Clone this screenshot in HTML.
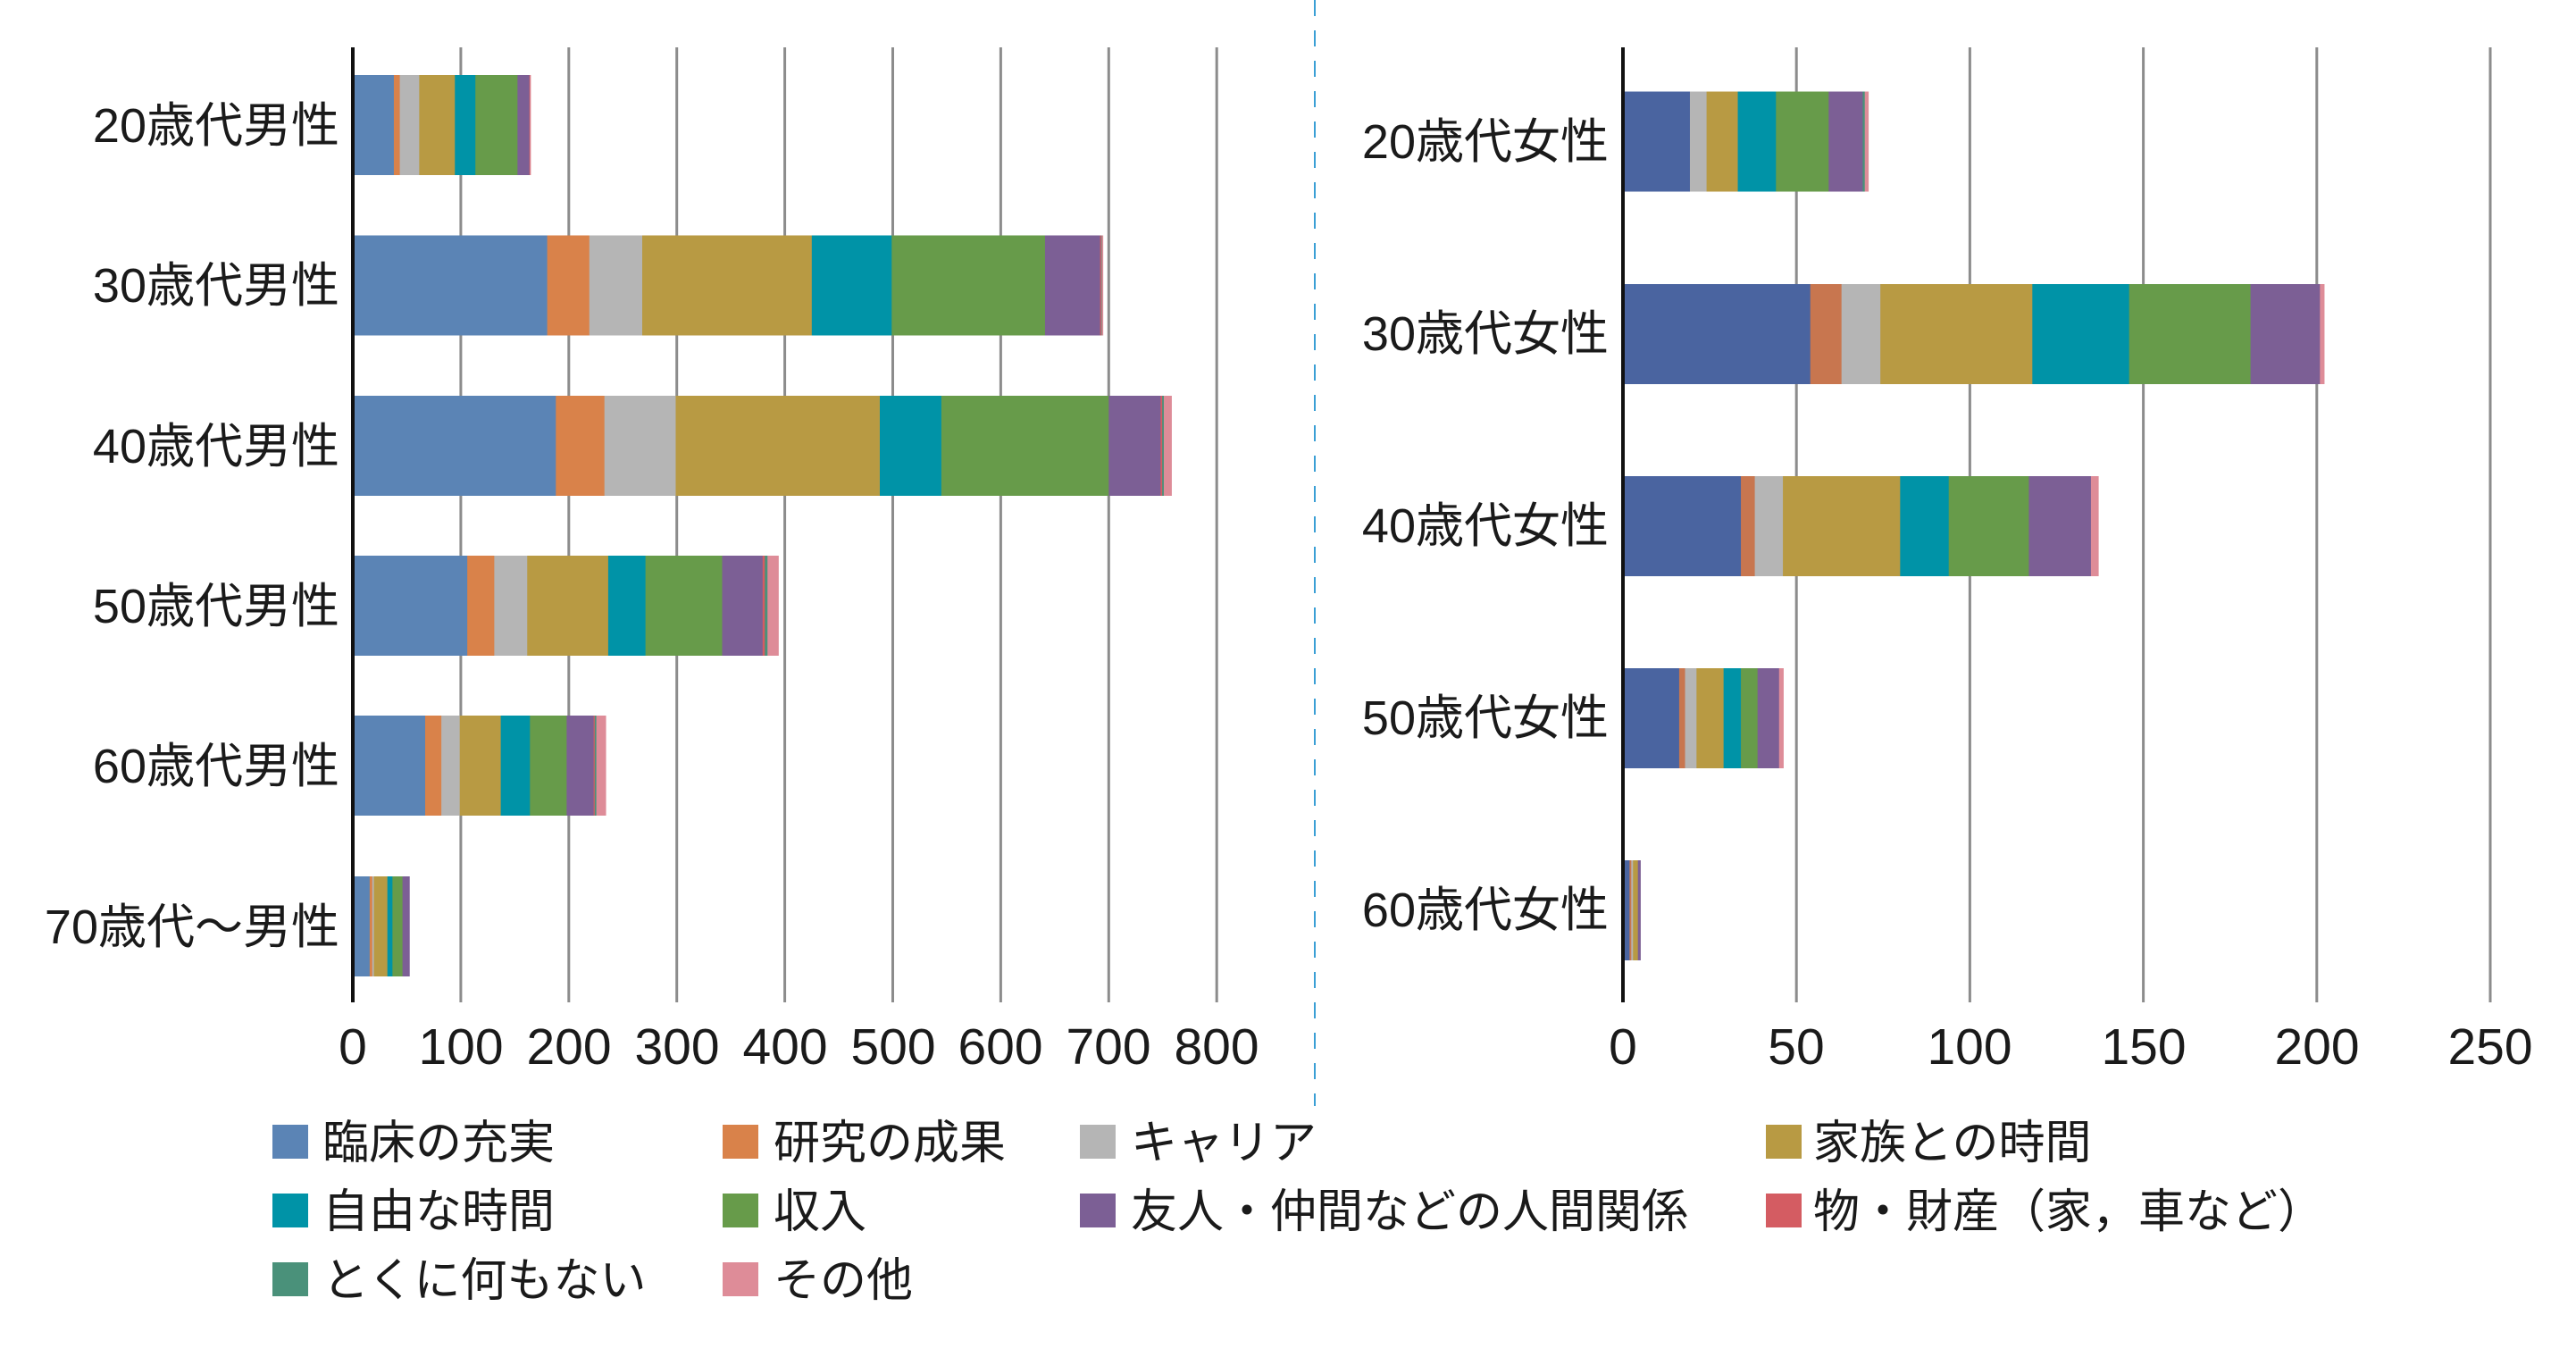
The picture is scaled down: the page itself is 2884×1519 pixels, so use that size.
<!DOCTYPE html>
<html><head><meta charset="utf-8"><style>
html,body{margin:0;padding:0;background:#fff;}
svg text{font-family:"Liberation Sans","Noto Sans CJK JP",sans-serif;fill:#1a1a1a;}
</style></head><body>
<svg id="s" width="2884" height="1514" viewBox="0 0 2884 1514" xmlns="http://www.w3.org/2000/svg">
<rect width="2884" height="1514" fill="#fff"/>
<g id="grid"></g>
<g id="bars"></g>
<line x1="395" y1="53" x2="395" y2="1122" stroke="#111" stroke-width="4"/>
<line x1="1817" y1="53" x2="1817" y2="1122" stroke="#111" stroke-width="4"/>
<line x1="1472" y1="0" x2="1472" y2="1238" stroke="#3a9fd5" stroke-width="2" stroke-dasharray="18,16"/>
<g font-size="54" text-anchor="end">
<text x="380" y="159">20歳代男性</text>
<text x="380" y="338">30歳代男性</text>
<text x="380" y="518">40歳代男性</text>
<text x="380" y="697">50歳代男性</text>
<text x="380" y="876">60歳代男性</text>
<text x="380" y="1056">70歳代〜男性</text>
<text x="1801" y="177">20歳代女性</text>
<text x="1801" y="392">30歳代女性</text>
<text x="1801" y="607">40歳代女性</text>
<text x="1801" y="822">50歳代女性</text>
<text x="1801" y="1037">60歳代女性</text>
</g>
<g font-size="57" text-anchor="middle">
<text x="395" y="1191">0</text><text x="516" y="1191">100</text><text x="637" y="1191">200</text><text x="758" y="1191">300</text><text x="879" y="1191">400</text><text x="1000" y="1191">500</text><text x="1120" y="1191">600</text><text x="1241" y="1191">700</text><text x="1362" y="1191">800</text>
<text x="1817" y="1191">0</text><text x="2011" y="1191">50</text><text x="2205" y="1191">100</text><text x="2400" y="1191">150</text><text x="2594" y="1191">200</text><text x="2788" y="1191">250</text>
</g>
<g id="leg"></g>
<g font-size="52">
<text x="361" y="1297">臨床の充実</text>
<text x="866" y="1297">研究の成果</text>
<text x="1266" y="1297">キャリア</text>
<text x="2030" y="1297">家族との時間</text>
<text x="361" y="1374">自由な時間</text>
<text x="866" y="1374">収入</text>
<text x="1266" y="1374">友人・仲間などの人間関係</text>
<text x="2030" y="1374">物・財産（家，車など）</text>
<text x="361" y="1451">とくに何もない</text>
<text x="866" y="1451">その他</text>
</g>
</svg>
<script>
var NS="http://www.w3.org/2000/svg";
function el(p,t,a){var e=document.createElementNS(NS,t);for(var k in a)e.setAttribute(k,a[k]);p.appendChild(e);}
var grid=document.getElementById('grid');
for(var i=1;i<=8;i++){var x=395+i*120.9;el(grid,'line',{x1:x,y1:53,x2:x,y2:1122,stroke:'#8c8c8c','stroke-width':3});}
for(var i=1;i<=5;i++){var x=1817+i*194.2;el(grid,'line',{x1:x,y1:53,x2:x,y2:1122,stroke:'#8c8c8c','stroke-width':3});}
var cL=['#5b84b5','#d9824a','#b5b5b5','#b89a43','#0093a7','#679b4a','#7c5f95','#d45c62','#4a917a','#de8c98'];
var cR=['#4a64a0','#c8764f','#b5b5b5','#b89a43','#0093a7','#679b4a','#7c5f95','#d45c62','#4a917a','#de8c98'];
var L=[[38,5.5,18,33,19,39,11,0.5,0,0.5],
[180,39,49,157,74,142,51,1,0.5,1],
[188,45,66,189,57,155,48,1.5,1.5,7],
[106,25,30.5,75,34.5,71,37.5,2,2.5,10],
[67,15,17,38,27,34,25,1,1.5,8.6],
[15.6,2.4,1.5,12.5,4.7,9.3,6.3,0,0,0]];
var LC=[140,319.5,499,678,857,1037];
var R=[[19.3,0,4.8,9,11,15.2,9.8,0,0.6,1],
[54,9,11.2,43.8,27.9,35,20,0,0,1.2],
[34,4,8.1,33.8,14,23.1,17.9,0,0,2.1],
[16.2,1.7,3.3,7.8,5,4.8,6.2,0,0,1.2],
[1.9,0.5,0.5,1.4,0,0,0.7,0,0,0]];
var RC=[158.5,374,589,804,1019];
var bars=document.getElementById('bars');
function draw(data,cents,x0,sc,col){
 data.forEach(function(row,j){var x=x0;row.forEach(function(v,k){if(v<=0)return;var w=v*sc;
  el(bars,'rect',{x:x,y:cents[j]-56,width:w+0.5,height:112,fill:col[k]});x+=w;});});
}
draw(L,LC,395,1.209,cL);
draw(R,RC,1817,3.884,cR);
var leg=document.getElementById('leg');
var pos=[[305,1259],[809,1259],[1209,1259],[1977,1259],[305,1336],[809,1336],[1209,1336],[1977,1336],[305,1413],[809,1413]];
pos.forEach(function(p,i){el(leg,'rect',{x:p[0],y:p[1],width:40,height:38,fill:cL[i]});});
</script>
</body></html>
